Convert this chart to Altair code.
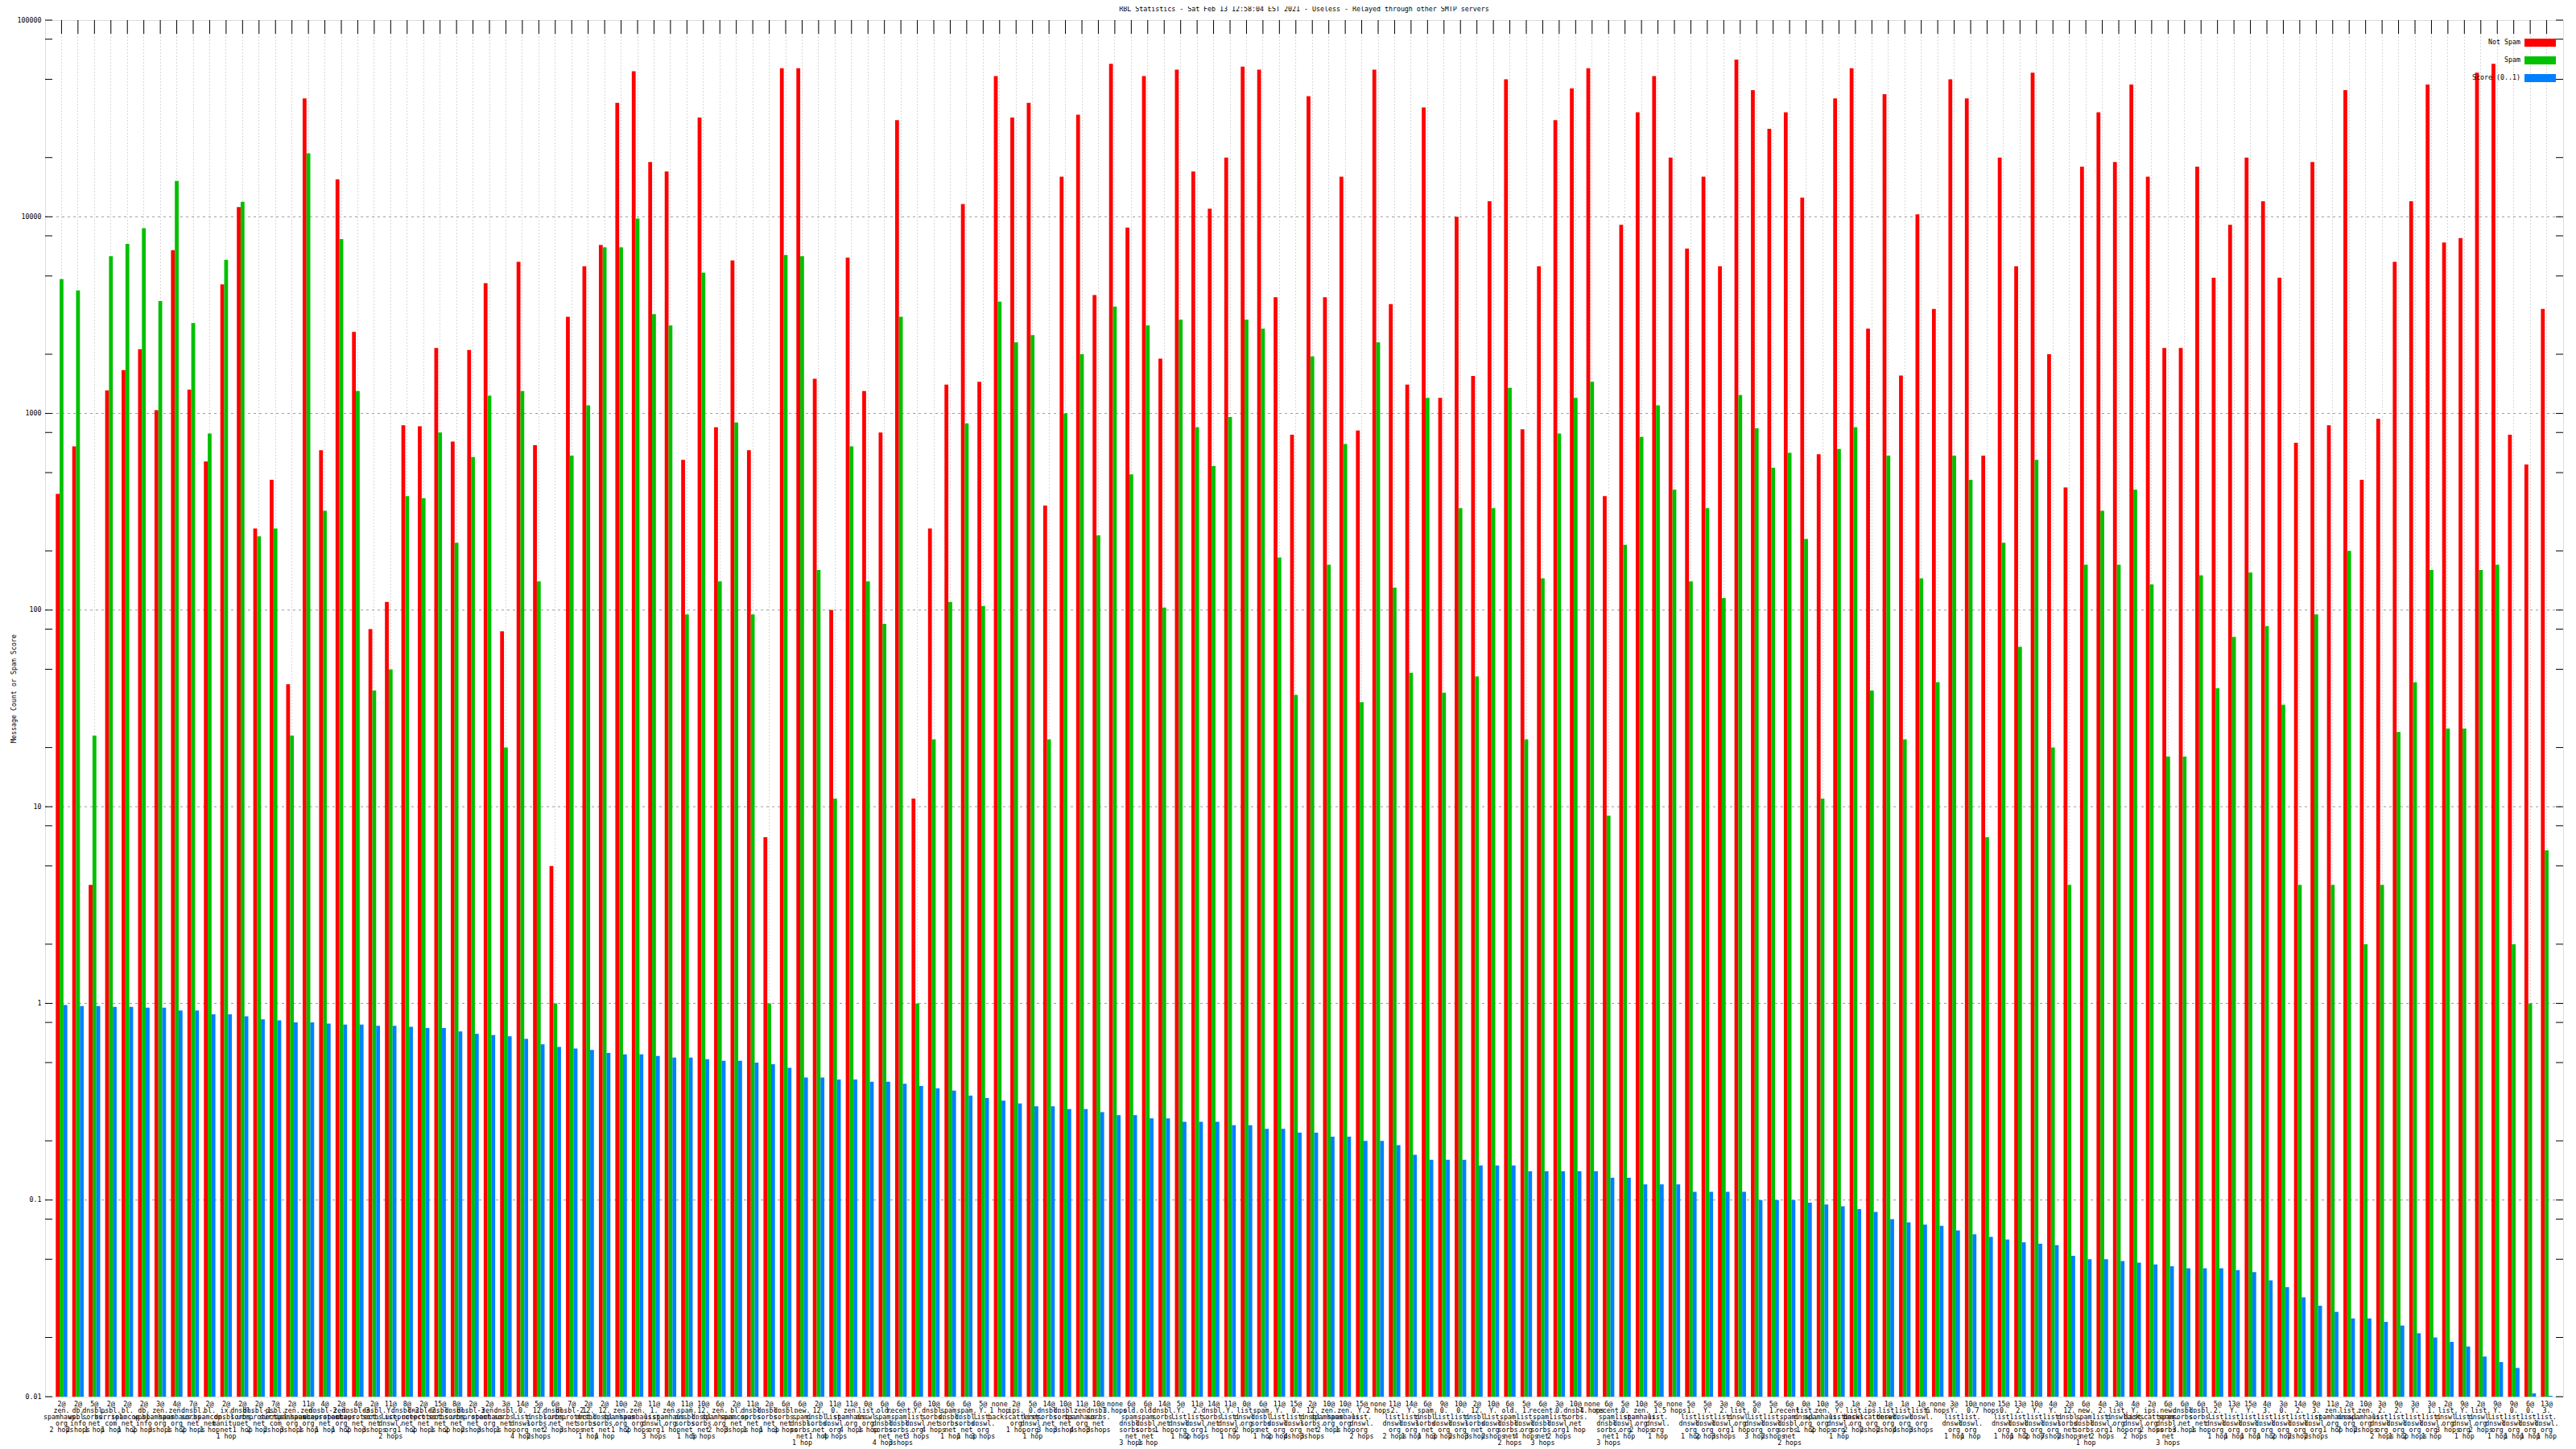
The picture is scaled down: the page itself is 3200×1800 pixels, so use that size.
import altair as alt
import pandas as pd

# ---------------- data ----------------
hop_prefix = [
    "2","2","5","2","2","2","3","4","7","2","2","2","2","7","2","11","4","2","4","2","11","8","2",
    "15","8","2","2","3","14","5","6","7","2","2","10","2","11","4","11","10","6","2","11","2","6",
    "6","2","11","11","0","6","6","6","10","6","6","5","none","2","5","14","10","11","10","none","6","6",
    "14","5","11","14","11","0","6","11","15","2","10","10","15","none","11","14","6","9","10","2","10","6",
    "5","6","3","10","none","6","5","10","5","none","5","5","3","0","5","5","6","0","10","5","1","2",
    "1","1","1","none","3","10","none","15","13","10","4","2","6","4","3","4","2","6","6","6","5","13",
    "15","4","3","14","9","11","2","10","3","9","3","3","2","9","2","9","9","6","13",
]

rbl_names = {
    "Z": "zen.|spamhaus.|org", "DB": "db.|wpbl.|info", "SO": "dnsbl.|sorbs.|net",
    "PS": "psbl.|surriel.|com", "SC": "bl.|spamcop.|net", "U1": "dnsbl-1.|uceprotect.|net",
    "U2": "dnsbl-2.|uceprotect.|net", "U3": "dnsbl-3.|uceprotect.|net",
    "MX": "ix.|dnsbl.|manitu.|net", "NEW": "new.|spam.|dnsbl.|sorbs.|net",
    "OLD": "old.|spam.|dnsbl.|sorbs.|net", "REC": "recent.|spam.|dnsbl.|sorbs.|net",
    "SPS": "spam.|dnsbl.|sorbs.|net", "D12": "12.|dnsbl.|sorbs.|net",
    "L": "list.|dnswl.|org", "L0": "0.|list.|dnswl.|org", "L1": "1.|list.|dnswl.|org",
    "L2": "2.|list.|dnswl.|org", "L3": "3.|list.|dnswl.|org", "LY": "Y.|list.|dnswl.|org",
    "IPS": "ips.|backscatterer.|org", "-": "",
}

rbl_code = [
    "Z","DB","SO","PS","SC","DB","Z","Z","SO","SC","MX","SO","U1","PS","Z","Z","U2","Z","U3","SO","LY","U2","U2",
    "SO","SO","U3","Z","SO","L0","D12","SO","U2","D12","D12","Z","Z","L1","Z","SPS","D12","Z","SC","SO","SO","SO",
    "NEW","D12","L0","Z","L","OLD","REC","LY","SO","SPS","SPS","LY","-","IPS","L0","SO","SO","Z","SO","-","OLD","OLD",
    "SO","LY","L2","SO","LY","L","SPS","LY","L0","D12","Z","Z","LY","-","L2","LY","SPS","L0","L0","D12","LY","OLD",
    "L1","REC","L0","SO","-","REC","L0","Z","L1","-","L1","LY","L2","L","L0","L1","REC","L","Z","LY","L","IPS",
    "L","L","L","-","LY","L0","-","L0","L2","LY","LY","D12","NEW","L2","L","LY","IPS","NEW","SO","SO","L2","LY",
    "LY","L3","L0","L2","L3","Z","L","Z","L2","L2","LY","L1","L","LY","L","LY","L0","L0","L3",
]

hops = [
    2,2,1,1,1,2,3,1,2,1,1,1,2,2,3,1,1,1,2,3,2,1,2,
    1,2,2,3,1,4,2,2,3,1,1,1,2,3,1,1,5,2,3,1,1,3,
    1,1,4,4,1,4,3,3,4,1,1,3,1,1,1,3,3,4,3,3,3,1,
    1,1,2,1,1,2,1,2,4,3,2,1,2,2,2,1,1,3,2,3,2,2,
    4,3,2,1,4,3,1,2,1,5,1,2,3,1,3,2,2,1,2,1,2,2,
    2,4,3,6,1,1,7,1,1,2,7,2,1,2,1,2,2,3,3,1,1,1,
    1,1,2,2,2,1,7,2,2,1,2,1,3,1,2,1,1,1,1,
]

not_spam = [
    390, 680, 4, 1310, 1660, 2120, 1040, 6770, 1320, 570, 4530, 11200, 260,
    460, 42, 40000, 650, 15500, 2600, 80, 110, 870, 860, 2150, 720, 2100, 4600, 78, 5900, 690, 5, 3100, 5600,
    7200, 38000, 55000, 19000, 17000, 580, 32000, 850, 6000, 650, 7, 57000, 57000, 1500, 100, 6200, 1300, 800, 31000, 11, 260,
    1400, 11600, 1450, 52000, 32000, 38000, 340, 16000, 33000, 4000, 60000, 8800, 52000, 1900, 56000, 17000, 11000, 20000,
    58000, 56000, 3900, 780, 41000, 3900, 16000, 820, 56000, 3600, 1400, 36000, 1200, 10000, 1550, 12000, 50000, 830,
    5600, 31000, 45000, 57000, 380, 9100, 34000, 52000, 20000, 6900, 16000, 5600, 63000, 44000, 28000, 34000, 12500, 620,
    40000, 57000, 2700, 42000, 1560, 10300, 3400, 50000, 40000, 610, 20000, 5600, 54000, 2000, 420, 18000, 34000, 19000,
    47000, 16000, 2150, 2150, 18000, 4900, 9100, 20000, 12000, 4900, 710, 19000, 870, 44000, 460, 940, 5900, 12000,
    47000, 7400, 7800, 54000, 60000, 780, 550, 3400,
]

spam = [
    4820, 4220, 23, 6300, 7280, 8750, 3730, 15200, 2880, 790, 6040, 11900, 237,
    260, 23, 21000, 320, 7700, 1300, 39, 50, 380, 370, 800, 220, 600, 1230, 20, 1300, 140, 1, 610, 1100,
    7000, 7000, 9800, 3200, 2800, 95, 5200, 140, 900, 95, 1, 6400, 6300, 160, 11, 680, 140, 85, 3100, 1, 22,
    110, 890, 105, 3700, 2300, 2500, 22, 1000, 2000, 240, 3500, 490, 2800, 103, 3000, 850, 540, 960,
    3000, 2700, 185, 37, 1950, 170, 700, 34, 2300, 130, 48, 1200, 38, 330, 46, 330, 1350, 22,
    145, 790, 1200, 1450, 9, 215, 760, 1100, 410, 140, 330, 115, 1240, 840, 530, 630, 230, 11,
    660, 850, 39, 610, 22, 145, 43, 610, 460, 7, 220, 65, 580, 20, 4, 170, 320, 170,
    410, 135, 18, 18, 150, 40, 73, 155, 83, 33, 4, 95, 4, 200, 2, 4, 24, 43,
    160, 25, 25, 160, 170, 2, 1, 6,
]

score = [
    0.98, 0.97, 0.97, 0.96, 0.96, 0.95, 0.95, 0.92, 0.92, 0.88,
    0.88, 0.86, 0.83, 0.82, 0.80, 0.80, 0.79, 0.78, 0.78, 0.77,
    0.77, 0.76, 0.75, 0.75, 0.72, 0.70, 0.69, 0.68, 0.66, 0.62,
    0.60, 0.59, 0.58, 0.56, 0.55, 0.55, 0.54, 0.53, 0.53, 0.52,
    0.51, 0.51, 0.50, 0.49, 0.47, 0.42, 0.42, 0.41, 0.41, 0.40,
    0.40, 0.39, 0.38, 0.37, 0.36, 0.34, 0.33, 0.32, 0.31, 0.30,
    0.30, 0.29, 0.29, 0.28, 0.27, 0.27, 0.26, 0.26, 0.25, 0.25,
    0.25, 0.24, 0.24, 0.23, 0.23, 0.22, 0.22, 0.21, 0.21, 0.20,
    0.20, 0.19, 0.17, 0.16, 0.16, 0.16, 0.15, 0.15, 0.15, 0.14,
    0.14, 0.14, 0.14, 0.14, 0.13, 0.13, 0.12, 0.12, 0.12, 0.11,
    0.11, 0.11, 0.11, 0.10, 0.10, 0.10, 0.097, 0.095, 0.093, 0.090,
    0.087, 0.080, 0.077, 0.075, 0.074, 0.070, 0.067, 0.065, 0.063, 0.061,
    0.060, 0.059, 0.052, 0.050, 0.050, 0.049, 0.048, 0.047, 0.046, 0.045,
    0.045, 0.045, 0.044, 0.043, 0.039, 0.036, 0.032, 0.029, 0.027, 0.025,
    0.025, 0.024, 0.023, 0.021, 0.020, 0.019, 0.018, 0.016, 0.015, 0.014,
    0.0104, 0.0101,
]

series_order = ["Not Spam", "Spam", "Score (0..1)"]
series_colors = ["#ff0000", "#00c000", "#0080ff"]
title_text = "RBL Statistics - Sat Feb 13 12:58:04 EST 2021 - Useless - Relayed through other SMTP servers"
y_title = "Message Count or Spam Score"
decades = [0.01, 0.1, 1, 10, 100, 1000, 10000, 100000]

n = len(hop_prefix)
assert all(len(a) == n for a in [rbl_code, hops, not_spam, spam, score])

# ---------------- build tables ----------------
cats = []
for i in range(n):
    htxt = "1 hop" if hops[i] == 1 else f"{hops[i]} hops"
    if hop_prefix[i] == "none":
        lab = f"none|{htxt}"
    else:
        lab = f"{hop_prefix[i]}@|{rbl_names[rbl_code[i]]}|{htxt}"
    cats.append(f"{i:03d}|{lab}")

rows = []
for i in range(n):
    for s, arr in zip(series_order, [not_spam, spam, score]):
        rows.append({"cat": cats[i], "series": s, "value": arr[i]})
df = pd.DataFrame(rows)

tick_vals = []
for d in decades[:-1]:
    for m in (1, 2, 5, 8):
        tick_vals.append(d * m)
tick_vals.append(100000)
tick_df = pd.DataFrame({"value": tick_vals})
grid_df = pd.DataFrame({"value": decades[1:-1]})
cat_df = pd.DataFrame({"cat": cats})

# ---------------- chart ----------------
W, H = 3128, 1710
FONT = "DejaVu Sans Mono"
FS = 8.3

xscale = alt.Scale(paddingInner=0.3, paddingOuter=0.65)
yscale = alt.Scale(type="log", domain=[0.01, 100000], nice=False, clamp=True)
cscale = alt.Scale(domain=series_order, range=series_colors)

x_axis = alt.Axis(
    orient="bottom", title=None, labelExpr="slice(split(datum.value, '|'), 1)", labelAngle=0,
    labelFont=FONT, labelFontSize=FS, labelLineHeight=8, labelColor="black",
    labelBaseline="top", labelPadding=4, labelOverlap=False, labelLimit=0, labelBound=False,
    ticks=False, domain=False, grid=True, gridColor="#b0b0b0", gridDash=[1, 3], gridWidth=1,
)
y_axis = alt.Axis(
    orient="left", title=y_title, values=decades,
    labelExpr="datum.value >= 1 ? format(datum.value, 'd') : format(datum.value, '.2~f')",
    ticks=False, domain=False, grid=False, labelFont=FONT, labelFontSize=FS, labelColor="black",
    labelPadding=5, labelBound=False, titleFont=FONT, titleFontSize=FS, titleFontWeight="normal",
    titleColor="black", titleX=-39, titleY=830, titleAngle=-90, titleBaseline="middle", titleAlign="center",
)

def Y(field="value"):
    return alt.Y(f"{field}:Q", scale=yscale, axis=y_axis)

def X():
    return alt.X("cat:N", sort=cats, scale=xscale, axis=x_axis)

hgrid = alt.Chart(grid_df).mark_rule(color="#9a9a9a", strokeDash=[3, 4], strokeWidth=1).encode(
    y=Y(), x=alt.value(0), x2=alt.value(W)
)

bars = alt.Chart(df).mark_bar().encode(
    x=X(),
    xOffset=alt.XOffset("series:N", sort=series_order, scale=alt.Scale(paddingInner=0, paddingOuter=0)),
    y=Y(),
    y2=alt.datum(0.01),
    color=alt.Color("series:N", scale=cscale, legend=None),
)

ytick_l = alt.Chart(tick_df).mark_rule(color="black", strokeWidth=1).encode(
    y=Y(), x=alt.value(0), x2=alt.value(9)
)
ytick_r = alt.Chart(tick_df).mark_rule(color="black", strokeWidth=1).encode(
    y=Y(), x=alt.value(W - 9), x2=alt.value(W)
)
xtick_t = alt.Chart(cat_df).mark_rule(color="black", strokeWidth=1).encode(
    x=X(), y=alt.value(0), y2=alt.value(17)
)

# chart title, drawn as a text mark above the frame
title_layer = alt.Chart(pd.DataFrame({"t": [title_text]})).mark_text(
    font=FONT, fontSize=FS, color="black", align="center", baseline="middle"
).encode(x=alt.value(W / 2), y=alt.value(-13), text="t:N")

# legend (gnuplot style: text on the left of a coloured swatch), one entry per series
legend_layers = []
leg_rows_y = [28, 50, 72]
for s, yc in zip(series_order, leg_rows_y):
    one = pd.DataFrame({"series": [s]})
    legend_layers.append(
        alt.Chart(one).mark_rect().encode(
            x=alt.value(W - 48), x2=alt.value(W - 9),
            y=alt.value(yc - 5), y2=alt.value(yc + 5),
            color=alt.Color("series:N", scale=cscale, legend=None),
        )
    )
    legend_layers.append(
        alt.Chart(one).mark_text(align="right", baseline="middle", font=FONT, fontSize=FS, color="black").encode(
            x=alt.value(W - 53), y=alt.value(yc), text="series:N"
        )
    )

chart = alt.layer(hgrid, bars, ytick_l, ytick_r, xtick_t, title_layer, *legend_layers).properties(
    width=W, height=H,
    autosize=alt.AutoSizeParams(type="none"),
    padding={"left": 48, "top": 17, "right": 8, "bottom": 62},
).configure_view(stroke="black", strokeWidth=1).configure(background="white")

chart.save("out.html", embed_options={"renderer": "svg", "actions": False})
